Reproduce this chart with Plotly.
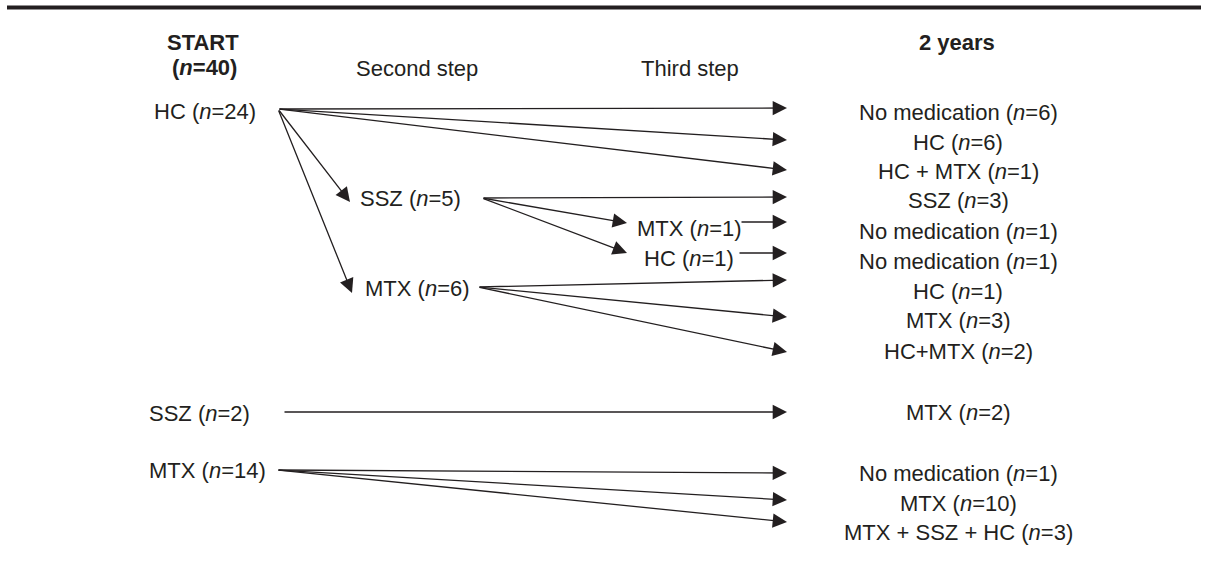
import plotly.graph_objects as go

# ---------------- data ----------------
header_labels = ["<b>START</b>", "<b>(<i>n</i>=40)</b>", "Second step", "Third step", "<b>2 years</b>"]

start_labels = ["HC (<i>n</i>=24)", "SSZ (<i>n</i>=2)", "MTX (<i>n</i>=14)"]
second_labels = ["SSZ (<i>n</i>=5)", "MTX (<i>n</i>=6)"]
third_labels = ["MTX (<i>n</i>=1)", "HC (<i>n</i>=1)"]
outcome_labels = [
    "No medication (<i>n</i>=6)",
    "HC (<i>n</i>=6)",
    "HC + MTX (<i>n</i>=1)",
    "SSZ (<i>n</i>=3)",
    "No medication (<i>n</i>=1)",
    "No medication (<i>n</i>=1)",
    "HC (<i>n</i>=1)",
    "MTX (<i>n</i>=3)",
    "HC+MTX (<i>n</i>=2)",
    "MTX (<i>n</i>=2)",
    "No medication (<i>n</i>=1)",
    "MTX (<i>n</i>=10)",
    "MTX + SSZ + HC (<i>n</i>=3)",
]

# edges: (source node, target node)
edges = [
    ("s0", "o0"), ("s0", "o1"), ("s0", "o2"), ("s0", "a0"), ("s0", "a1"),
    ("a0", "o3"), ("a0", "b0"), ("a0", "b1"),
    ("b0", "o4"), ("b1", "o5"),
    ("a1", "o6"), ("a1", "o7"), ("a1", "o8"),
    ("s1", "o9"),
    ("s2", "o10"), ("s2", "o11"), ("s2", "o12"),
]

# ---------------- layout (pixel positions of the diagram) ----------------
header_pos = [(203, 42), (204, 67), (417, 68), (690, 68), (957, 42)]

# label positions: (x, y, anchor)
label_pos = {
    "s0": (152, 111, "left"), "s1": (147, 413, "left"), "s2": (147, 470, "left"),
    "a0": (358, 198, "left"), "a1": (363, 288, "left"),
    "b0": (635, 228, "left"), "b1": (642, 258, "left"),
}
outcome_x = 958
outcome_y = [112, 142, 171, 200, 231, 261, 291, 320, 351, 412, 473, 503, 532]
for i, yy in enumerate(outcome_y):
    label_pos["o%d" % i] = (outcome_x, yy, "center")

# arrow tail points (where arrows leave a node)
tail_pos = {
    "s0": (278, 109), "s1": (283, 412), "s2": (277, 470),
    "a0": (482, 198), "a1": (478, 287),
    "b0": (740, 222), "b1": (738, 253),
}
# arrow tip points (where arrows enter a node)
tip_x = 787
tip_pos = {"a0": (350, 202), "a1": (352, 293), "b0": (627, 223), "b1": (627, 253)}
outcome_tip_y = [108, 140, 170, 197, 222, 253, 280, 317, 352, 412, 473, 500, 522]
for i, yy in enumerate(outcome_tip_y):
    tip_pos["o%d" % i] = (tip_x, yy)

INK = "#231f20"
FONT = dict(family="Liberation Sans, Arial, Helvetica, sans-serif", size=22, color=INK)

all_labels = {}
for i, t in enumerate(start_labels):
    all_labels["s%d" % i] = t
for i, t in enumerate(second_labels):
    all_labels["a%d" % i] = t
for i, t in enumerate(third_labels):
    all_labels["b%d" % i] = t
for i, t in enumerate(outcome_labels):
    all_labels["o%d" % i] = t

fig = go.Figure()
fig.add_trace(go.Scatter(x=[0, 1208], y=[0, 571], mode="markers",
                         marker=dict(opacity=0), hoverinfo="skip", showlegend=False))

annotations = []
for t, (x, y) in zip(header_labels, header_pos):
    annotations.append(dict(x=x, y=y, xref="x", yref="y", text=t, showarrow=False,
                            xanchor="center", yanchor="middle", font=FONT))
for key, t in all_labels.items():
    x, y, anc = label_pos[key]
    annotations.append(dict(x=x, y=y, xref="x", yref="y", text=t, showarrow=False,
                            xanchor=anc, yanchor="middle", font=FONT))
for src, dst in edges:
    tx, ty = tail_pos[src]
    hx, hy = tip_pos[dst]
    annotations.append(dict(x=hx, y=hy, ax=tx, ay=ty, xref="x", yref="y",
                            axref="x", ayref="y", text="", showarrow=True,
                            arrowhead=2, arrowsize=2.2, arrowwidth=1.3,
                            arrowcolor=INK, standoff=0, startstandoff=0))

fig.update_layout(
    width=1208, height=571,
    margin=dict(l=0, r=0, t=0, b=0),
    paper_bgcolor="white", plot_bgcolor="white",
    xaxis=dict(range=[0, 1208], visible=False, fixedrange=True),
    yaxis=dict(range=[571, 0], visible=False, fixedrange=True),
    annotations=annotations,
    shapes=[dict(type="line", xref="x", yref="y", x0=7, x1=1201, y0=7.5, y1=7.5,
                 line=dict(color=INK, width=4))],
    showlegend=False,
)

fig.write_html("out.html", config={"displayModeBar": False},
               post_script="document.body.style.margin='0';document.body.style.padding='0';")
